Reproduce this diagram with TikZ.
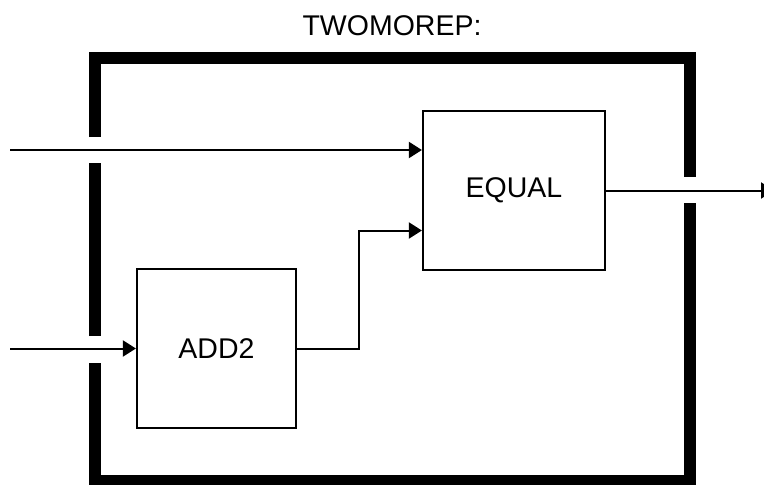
\documentclass[tikz,border=0pt]{standalone}
\usepackage{fontspec}
\setmainfont{Liberation Sans}
\usetikzlibrary{arrows.meta,positioning}
\begin{document}
\begin{tikzpicture}[x=1pt,y=-1pt,
  block/.style={draw,line width=2.2pt,inner sep=0pt,font=\fontsize{28.5}{30}\selectfont},
  wire/.style={line width=2pt,-{Triangle[length=13pt,width=16pt]}},
  frame/.style={line width=12pt,line cap=butt,line join=miter}]
\clip (0,0) rectangle (764,485);
\fill[white] (0,0) rectangle (764,485);
\node[font=\fontsize{28.5}{30}\selectfont] (title) at (392,26) {TWOMOREP:};
% outer frame with gaps for the wires
\draw[frame] (94.5,137) -- (94.5,57.5) -- (689.5,57.5) -- (689.5,177);
\draw[frame] (689.5,203) -- (689.5,481) -- (94.5,481) -- (94.5,363);
\draw[frame] (94.5,336) -- (94.5,163);
% blocks
\node[block,minimum width=159pt,minimum height=159pt] (add) at (216.5,348.5) {ADD2};
\node[block,minimum width=182pt,minimum height=159pt] (equal) at (514,190.5) {EQUAL};
\coordinate (in1) at (10,150);
\coordinate (in2) at (10,348.5);
\coordinate (out) at (774,190.5);
\coordinate (eqin2) at ([yshift=-40pt]equal.west);
\draw[wire] (in1) -- (in1 -| equal.west);
\draw[wire] (in2) -- (add.west);
\draw[wire] (add.east) -- (359,348.5) |- (eqin2);
\draw[wire] (equal.east) -- (out);
\end{tikzpicture}
\end{document}
